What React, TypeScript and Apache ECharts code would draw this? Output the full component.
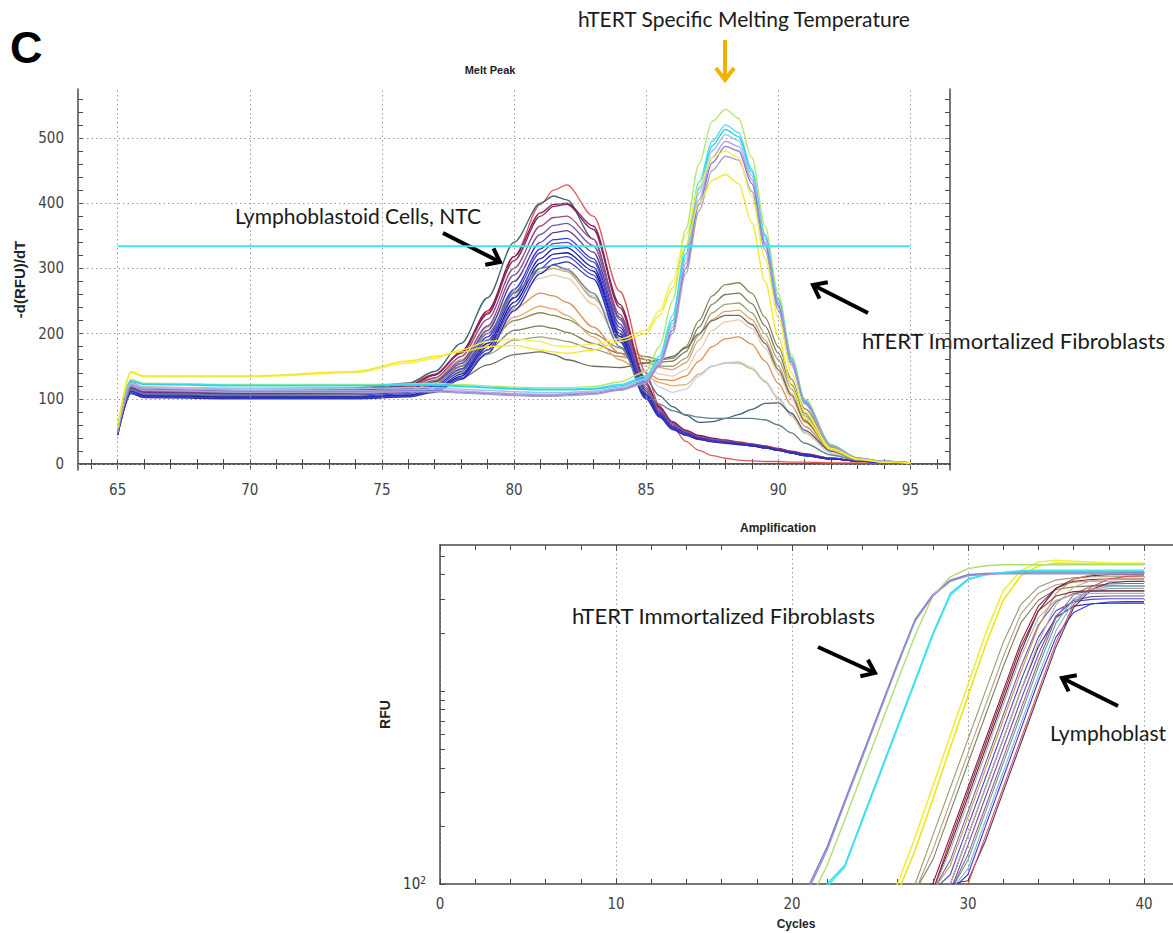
import React, { useEffect, useRef } from "react";
import * as echarts from "echarts";

// ---------- Melt Peak data ----------
const MELT_TEMPS = [65, 65.5, 66, 70, 74, 76, 77, 78, 79, 80, 81, 81.5, 82, 83, 84, 85, 85.5, 86, 86.5, 87, 87.5, 88, 88.5, 89, 89.5, 90, 90.5, 91, 92, 93, 94, 95];
const MELT_X_LABELS = [65, 70, 75, 80, 85, 90, 95];
const MELT_X_TICKS = [64, 65, 66, 67, 68, 69, 70, 71, 72, 73, 74, 75, 76, 77, 78, 79, 80, 81, 82, 83, 84, 85, 86, 87, 88, 89, 90, 91, 92, 93, 94, 95, 96];
const MELT_Y_LABELS = [0, 100, 200, 300, 400, 500];
const MELT_Y_TICKS = [0, 20, 40, 60, 80, 100, 120, 140, 160, 180, 200, 220, 240, 260, 280, 300, 320, 340, 360, 380, 400, 420, 440, 460, 480, 500, 520, 540, 560];
const THRESHOLD = 334;

const FIB_MELT_COLORS = ["#b4e86a", "#3fe3ee", "#2fd2e4", "#96c8f0", "#b4a4e4", "#8a7cd4", "#aaa2c6", "#f2f04a", "#f6e62a"];
const FIB_MELT = [
  [58, 130, 124, 122, 122, 123, 124, 122, 120, 118, 117, 117, 117, 119, 126, 142, 180, 250, 360, 460, 525, 544, 530, 470, 365, 262, 168, 100, 30, 10, 4, 2],
  [55, 128, 123, 121, 121, 122, 122, 120, 118, 116, 115, 115, 115, 116, 122, 135, 165, 228, 332, 432, 495, 520, 508, 452, 352, 252, 162, 96, 28, 9, 4, 2],
  [54, 127, 122, 120, 120, 121, 121, 119, 117, 115, 114, 114, 114, 115, 120, 132, 160, 220, 322, 422, 488, 513, 502, 448, 350, 252, 163, 98, 29, 9, 4, 2],
  [52, 124, 118, 116, 116, 117, 117, 115, 113, 111, 110, 110, 110, 112, 118, 130, 158, 215, 315, 415, 480, 505, 496, 442, 345, 248, 160, 96, 28, 9, 4, 2],
  [52, 122, 116, 113, 113, 114, 114, 112, 110, 108, 107, 107, 108, 110, 116, 128, 155, 210, 308, 405, 470, 495, 487, 436, 340, 245, 158, 95, 28, 9, 4, 2],
  [50, 120, 114, 111, 111, 112, 112, 110, 108, 106, 105, 105, 106, 108, 114, 126, 152, 205, 300, 398, 462, 487, 480, 430, 336, 242, 156, 94, 27, 9, 4, 2],
  [50, 120, 113, 110, 110, 111, 111, 109, 107, 105, 104, 104, 105, 107, 113, 124, 150, 200, 292, 388, 450, 472, 466, 418, 328, 236, 152, 92, 27, 9, 4, 2],
  [56, 140, 134, 134, 140, 155, 162, 175, 188, 192, 188, 182, 180, 184, 192, 205, 235, 280, 350, 425, 470, 480, 470, 410, 315, 225, 140, 80, 24, 8, 3, 2],
  [56, 142, 135, 135, 142, 158, 165, 172, 180, 182, 175, 172, 170, 175, 188, 200, 228, 270, 335, 400, 435, 444, 430, 370, 280, 195, 120, 70, 22, 7, 3, 2],
];

const LYM_MELT_COLORS = ["#e0585a", "#3e6478", "#8a1c48", "#7a2a6a", "#a24878", "#7058a8", "#683890", "#3838d8", "#5050c8", "#2828b0", "#1c1c98", "#4848e8", "#3030a8", "#66808e"];
const LYM_MELT = [
  [52, 125, 118, 116, 117, 124, 138, 172, 232, 318, 398, 420, 428, 380, 265, 140, 90, 57, 35, 21, 13, 9, 6, 5, 4, 4, 3, 3, 2, 2, 2, 2],
  [50, 122, 115, 113, 114, 124, 142, 185, 255, 340, 400, 411, 405, 345, 225, 130, 105, 88, 75, 64, 65, 70, 76, 84, 93, 94, 78, 52, 20, 7, 3, 2],
  [50, 120, 113, 111, 112, 120, 136, 172, 235, 318, 385, 398, 400, 365, 245, 125, 88, 65, 52, 44, 40, 37, 34, 31, 28, 24, 20, 16, 9, 5, 3, 2],
  [50, 121, 114, 112, 113, 121, 137, 170, 230, 312, 380, 395, 398, 360, 240, 122, 86, 64, 51, 43, 39, 36, 33, 30, 27, 23, 19, 15, 9, 5, 3, 2],
  [49, 118, 112, 110, 111, 118, 132, 165, 222, 300, 365, 378, 380, 345, 230, 118, 84, 62, 50, 42, 38, 36, 33, 30, 27, 23, 19, 15, 9, 5, 3, 2],
  [48, 118, 111, 109, 110, 116, 128, 158, 212, 290, 352, 366, 369, 335, 222, 115, 82, 60, 49, 41, 37, 35, 32, 29, 26, 22, 18, 14, 8, 5, 3, 2],
  [48, 116, 110, 108, 109, 115, 126, 154, 205, 280, 340, 355, 358, 325, 215, 112, 80, 58, 48, 40, 36, 34, 31, 28, 25, 21, 17, 13, 8, 5, 3, 2],
  [47, 114, 108, 106, 106, 110, 120, 146, 195, 268, 330, 344, 346, 315, 210, 110, 78, 57, 47, 40, 36, 34, 31, 29, 26, 22, 18, 14, 8, 5, 3, 2],
  [46, 112, 106, 104, 104, 108, 118, 142, 190, 262, 324, 338, 340, 310, 205, 108, 76, 56, 46, 39, 35, 33, 31, 29, 26, 22, 18, 14, 8, 5, 3, 2],
  [46, 112, 105, 103, 103, 106, 115, 138, 185, 255, 315, 330, 332, 302, 200, 106, 75, 55, 46, 39, 35, 33, 31, 29, 26, 22, 18, 14, 8, 5, 3, 2],
  [45, 110, 104, 102, 102, 105, 113, 135, 180, 248, 308, 322, 324, 296, 196, 104, 74, 54, 45, 38, 35, 33, 31, 28, 25, 21, 17, 13, 8, 5, 3, 2],
  [45, 110, 103, 101, 101, 104, 112, 132, 175, 242, 300, 315, 318, 290, 192, 102, 73, 54, 45, 38, 35, 33, 30, 28, 25, 21, 17, 13, 8, 5, 3, 2],
  [44, 108, 102, 100, 100, 103, 110, 130, 170, 235, 292, 306, 310, 284, 188, 100, 72, 53, 44, 38, 34, 32, 30, 28, 25, 21, 17, 13, 8, 5, 3, 2],
  [48, 114, 108, 106, 107, 112, 122, 150, 200, 262, 300, 305, 298, 262, 180, 110, 92, 82, 76, 72, 70, 70, 70, 70, 68, 60, 48, 32, 14, 6, 3, 2],
];

const MIX_MELT_COLORS = ["#8a8a58", "#7a7a5c", "#a2a27a", "#d6a474", "#e6cbb0", "#e08e50", "#eaa868", "#c0d4e8", "#6c6c5c"];
const MIX_MELT = [
  [50, 118, 112, 110, 111, 118, 128, 150, 185, 220, 232, 228, 222, 200, 178, 165, 160, 162, 180, 220, 258, 275, 278, 262, 225, 180, 130, 85, 28, 9, 4, 2],
  [50, 116, 110, 108, 109, 116, 125, 145, 175, 205, 212, 208, 202, 185, 170, 160, 156, 158, 172, 210, 245, 260, 262, 246, 212, 170, 122, 78, 26, 9, 4, 2],
  [49, 115, 109, 107, 108, 114, 122, 140, 168, 190, 195, 192, 188, 176, 165, 155, 150, 150, 162, 198, 232, 245, 247, 232, 200, 160, 115, 74, 25, 8, 4, 2],
  [50, 118, 112, 110, 111, 120, 132, 160, 210, 265, 295, 300, 295, 255, 200, 160, 148, 145, 155, 190, 222, 234, 236, 222, 190, 150, 108, 68, 22, 8, 4, 2],
  [49, 117, 111, 109, 110, 118, 130, 156, 202, 255, 285, 290, 285, 245, 190, 150, 138, 135, 145, 175, 205, 218, 221, 208, 178, 140, 100, 64, 21, 7, 3, 2],
  [49, 116, 110, 108, 109, 116, 126, 150, 190, 238, 262, 258, 248, 210, 170, 140, 130, 128, 135, 158, 180, 192, 195, 184, 158, 124, 90, 58, 20, 7, 3, 2],
  [48, 115, 109, 107, 108, 115, 124, 146, 182, 225, 242, 238, 228, 195, 160, 135, 125, 120, 122, 138, 150, 155, 155, 146, 126, 100, 74, 48, 17, 6, 3, 2],
  [48, 115, 109, 107, 108, 116, 128, 155, 200, 258, 295, 305, 300, 258, 195, 140, 118, 110, 115, 135, 150, 156, 157, 148, 128, 102, 76, 50, 17, 6, 3, 2],
  [49, 114, 108, 106, 107, 112, 118, 132, 152, 168, 172, 168, 160, 150, 148, 155, 160, 165, 178, 200, 220, 228, 228, 214, 185, 145, 105, 66, 22, 8, 4, 2],
];

// ---------- Amplification data ----------
const AMP_CYCLES = [20, 21, 22, 23, 24, 25, 26, 27, 28, 29, 30, 31, 32, 33, 34, 35, 36, 37, 38, 39, 40];
const AMP_Y_TICKS = [100, 200, 300, 400, 500, 600, 700, 800, 900, 1000, 2000, 3000, 4000, 5000];
const AMP_Y_LABELS = [100];

const FIB_AMP_COLORS = ["#7a78c2", "#b0de6e", "#2fd8e8", "#4ae4f0", "#9a92d2"];
const FIB_AMP = [
  [70, 100, 156, 270, 466, 805, 1390, 2350, 3150, 3750, 4000, 4060, 4080, 4080, 4080, 4080, 4080, 4080, 4080, 4080, 4080],
  [60, 82, 125, 215, 375, 650, 1130, 1950, 3100, 3900, 4300, 4450, 4500, 4500, 4500, 4500, 4500, 4500, 4500, 4500, 4500],
  [55, 70, 100, 125, 218, 378, 656, 1140, 1980, 3200, 3800, 4000, 4100, 4150, 4150, 4150, 4150, 4150, 4150, 4150, 4150],
  [55, 68, 97, 122, 212, 368, 640, 1110, 1930, 3120, 3760, 3990, 4120, 4200, 4220, 4220, 4220, 4220, 4220, 4220, 4220],
  [68, 96, 150, 262, 452, 785, 1360, 2300, 3100, 3700, 3950, 4020, 4040, 4040, 4040, 4040, 4040, 4040, 4040, 4040, 4040],
];

const YEL_AMP_COLORS = ["#eeee3c", "#f0e414"];
const YEL_AMP = [
  [50, 55, 60, 65, 70, 80, 100, 175, 320, 590, 1080, 1980, 3300, 4200, 4650, 4750, 4700, 4650, 4600, 4600, 4600],
  [50, 55, 60, 65, 70, 75, 90, 150, 275, 510, 940, 1730, 2950, 3950, 4450, 4600, 4580, 4560, 4550, 4550, 4550],
];

const LYM_AMP_COLORS = ["#9a9a72", "#b0a080", "#7e7e60", "#8a1c48", "#6e1f40", "#6a6aa8", "#d89048", "#4848d0", "#2828a8", "#7050a8", "#5ea4a4", "#a06080", "#3838e0", "#4a3a70", "#e05050", "#c8b090", "#90b0c8", "#b0b0b0", "#8c3030"];
const LYM_AMP = [
  [92, 92, 92, 92, 92, 92, 92, 100, 178, 316, 562, 1000, 1780, 2800, 3450, 3750, 3860, 3900, 3900, 3900, 3900],
  [92, 92, 92, 92, 92, 92, 92, 92, 150, 267, 475, 845, 1500, 2500, 3200, 3550, 3660, 3700, 3700, 3700, 3700],
  [92, 92, 92, 92, 92, 92, 92, 92, 133, 237, 422, 750, 1334, 2250, 2950, 3350, 3460, 3500, 3500, 3500, 3500],
  [92, 92, 92, 92, 92, 92, 92, 92, 100, 178, 316, 562, 1000, 1780, 2750, 3400, 3700, 3780, 3800, 3800, 3800],
  [92, 92, 92, 92, 92, 92, 92, 92, 92, 159, 283, 503, 895, 1590, 2600, 3400, 3800, 3950, 4000, 4000, 4000],
  [92, 92, 92, 92, 92, 92, 92, 92, 92, 133, 237, 422, 750, 1334, 2200, 2900, 3200, 3280, 3300, 3300, 3300],
  [92, 92, 92, 92, 92, 92, 92, 92, 92, 125, 222, 395, 705, 1250, 2150, 3200, 3800, 4000, 4080, 4100, 4100],
  [92, 92, 92, 92, 92, 92, 92, 92, 92, 112, 200, 355, 632, 1125, 1900, 2600, 2900, 2980, 3000, 3000, 3000],
  [92, 92, 92, 92, 92, 92, 92, 92, 92, 100, 178, 316, 562, 1000, 1700, 2400, 2750, 2830, 2850, 2850, 2850],
  [92, 92, 92, 92, 92, 92, 92, 92, 92, 92, 159, 283, 503, 895, 1550, 2450, 2950, 3080, 3100, 3100, 3100],
  [92, 92, 92, 92, 92, 92, 92, 92, 92, 92, 133, 237, 422, 750, 1334, 2250, 3000, 3300, 3380, 3400, 3400],
  [92, 92, 92, 92, 92, 92, 92, 92, 92, 92, 142, 252, 450, 800, 1420, 2400, 3150, 3500, 3580, 3600, 3600],
  [92, 92, 92, 92, 92, 92, 92, 92, 92, 92, 112, 200, 355, 632, 1125, 1900, 2550, 2820, 2890, 2900, 2900],
  [92, 92, 92, 92, 92, 92, 92, 92, 92, 100, 104, 168, 300, 533, 950, 1690, 2700, 3350, 3620, 3690, 3700],
  [92, 92, 92, 92, 92, 92, 92, 92, 92, 92, 100, 178, 316, 562, 1000, 1780, 2800, 3450, 3800, 3920, 3950],
  [92, 92, 92, 92, 92, 92, 92, 92, 92, 100, 178, 316, 562, 1000, 1780, 2800, 3450, 3720, 3780, 3800, 3800],
  [92, 92, 92, 92, 92, 92, 92, 92, 92, 92, 120, 214, 380, 676, 1200, 2050, 2900, 3350, 3470, 3500, 3500],
  [92, 92, 92, 92, 92, 92, 92, 92, 92, 150, 267, 475, 845, 1500, 2400, 2950, 3150, 3200, 3200, 3200, 3200],
  [92, 92, 92, 92, 92, 92, 92, 92, 92, 168, 300, 533, 950, 1690, 2600, 3100, 3270, 3300, 3300, 3300, 3300],
];

const LABEL_FONT = "'Liberation Sans Narrow', 'DejaVu Sans Condensed', 'Liberation Sans', sans-serif";
const NOTE_FONT = "Lato, 'Open Sans', sans-serif";
const BOLD_FONT = "'Liberation Sans', Arial, sans-serif";
const AXIS_COLOR = "#4a4a4a";

function arrow(x1: number, y1: number, x2: number, y2: number, color: string) {
  const a = Math.atan2(y2 - y1, x2 - x1);
  const L = 15;
  const p1 = [x2 - L * Math.cos(a - 0.65), y2 - L * Math.sin(a - 0.65)];
  const p2 = [x2 - L * Math.cos(a + 0.65), y2 - L * Math.sin(a + 0.65)];
  return [
    { type: "line", shape: { x1, y1, x2, y2 }, style: { stroke: color, lineWidth: 4, lineCap: "butt" }, silent: true },
    { type: "polyline", shape: { points: [p1, [x2, y2], p2] }, style: { stroke: color, lineWidth: 4, fill: null, lineJoin: "miter" }, silent: true },
  ];
}

function text(x: number, y: number, t: string, font: string, align = "left", color = "#1a1a1a") {
  return {
    type: "text",
    x,
    y,
    silent: true,
    style: { text: t, font, fill: color, align, verticalAlign: "middle", textAlign: align, textVerticalAlign: "middle" },
  };
}

export default function App() {
  const ref = useRef<HTMLDivElement>(null);
  useEffect(() => {
    if (!ref.current) return;
    const chart = echarts.init(ref.current, null, { renderer: "svg" });

    const lineSeries = (curves: number[][], colors: string[], xs: number[], xi: number, yi: number, width: number, name: string, smooth: number) =>
      curves.map((c, i) => ({
        type: "line",
        name: `${name} ${i + 1}`,
        xAxisIndex: xi,
        yAxisIndex: yi,
        data: xs.map((x, j) => [x, c[j]]),
        symbol: "none",
        showSymbol: false,
        smooth,
        smoothMonotone: "x",
        clip: true,
        silent: true,
        lineStyle: { color: colors[i], width },
      }));

    const dotted = { color: "#9a9a9a", type: [1.5, 3], width: 1 };

    const gridSeries = {
      type: "line",
      name: "grid",
      xAxisIndex: 0,
      yAxisIndex: 0,
      data: [],
      silent: true,
      markLine: {
        silent: true,
        symbol: ["none", "none"],
        label: { show: false },
        lineStyle: dotted,
        emphasis: { disabled: true },
        data: [
          ...MELT_X_LABELS.map((v) => ({ xAxis: v })),
          ...MELT_Y_LABELS.map((v) => ({ yAxis: v })),
        ],
      },
    };

    const thresholdSeries = {
      type: "line",
      name: "threshold",
      xAxisIndex: 0,
      yAxisIndex: 0,
      data: [
        [MELT_X_LABELS[0], THRESHOLD],
        [MELT_X_LABELS[MELT_X_LABELS.length - 1], THRESHOLD],
      ],
      symbol: "none",
      silent: true,
      lineStyle: { color: "#3ce4ec", width: 2.2 },
      z: 3,
    };

    const tickStyle = { inside: true, length: 5, lineStyle: { color: AXIS_COLOR, width: 1 } };
    const axisLine = { show: true, lineStyle: { color: AXIS_COLOR, width: 1.5 } };
    const labelStyle = { fontFamily: LABEL_FONT, fontSize: 15, color: "#444" };

    const meltX = (pos: string, labels: boolean) => ({
      type: "value",
      gridIndex: 0,
      position: pos,
      min: 63.5,
      max: 96.5,
      axisLine,
      axisTick: { ...tickStyle, customValues: MELT_X_TICKS },
      axisLabel: { show: labels, customValues: MELT_X_LABELS, margin: 12, ...labelStyle },
      splitLine: { show: false },
    });
    const meltY = (pos: string, labels: boolean) => ({
      type: "value",
      gridIndex: 0,
      position: pos,
      min: -9,
      max: 575,
      axisLine,
      axisTick: { ...tickStyle, customValues: MELT_Y_TICKS },
      axisLabel: { show: labels, customValues: MELT_Y_LABELS, margin: 14, ...labelStyle },
      splitLine: { show: false },
      name: labels ? "-d(RFU)/dT" : "",
      nameLocation: "middle",
      nameGap: 44,
      nameTextStyle: { fontFamily: BOLD_FONT, fontWeight: "bold", fontSize: 15, color: "#222" },
    });
    const ampX = (pos: string, labels: boolean) => ({
      type: "value",
      gridIndex: 1,
      position: pos,
      min: 0,
      max: 41.65,
      interval: 10,
      axisLine,
      axisTick: { ...tickStyle, length: 6 },
      minorTick: { show: true, splitNumber: 5, length: 5, lineStyle: { color: AXIS_COLOR } },
      axisLabel: { show: labels, margin: 12, showMaxLabel: false, ...labelStyle },
      splitLine: { show: labels, lineStyle: dotted },
    });

    const option = {
      animation: false,
      backgroundColor: "#ffffff",
      grid: [
        { left: 78, top: 89, width: 872, height: 381 },
        { left: 440, top: 545, width: 733, height: 339 },
      ],
      xAxis: [meltX("bottom", true), meltX("top", false), ampX("bottom", true), ampX("top", false)],
      yAxis: [
        meltY("left", true),
        meltY("right", false),
        {
          type: "log",
          logBase: 10,
          gridIndex: 1,
          min: 100,
          max: 5700,
          axisLine,
          axisTick: { ...tickStyle, customValues: AMP_Y_TICKS },
          minorTick: { show: false },
          axisLabel: {
            customValues: AMP_Y_LABELS,
            formatter: () => "{a|10}{b|2}",
            margin: 14,
            ...labelStyle,
            rich: {
              a: { fontFamily: LABEL_FONT, fontSize: 15, color: "#333" },
              b: { fontFamily: LABEL_FONT, fontSize: 10, color: "#333", verticalAlign: "top", padding: [0, 0, 8, 0] },
            },
          },
          splitLine: { show: false },
          name: "RFU",
          nameLocation: "middle",
          nameGap: 30,
          nameTextStyle: { fontFamily: BOLD_FONT, fontWeight: "bold", fontSize: 14, color: "#222" },
        },
      ],
      series: [
        gridSeries,
        ...lineSeries(MIX_MELT, MIX_MELT_COLORS, MELT_TEMPS, 0, 0, 1.3, "mixed melt", 0.3),
        ...lineSeries(LYM_MELT, LYM_MELT_COLORS, MELT_TEMPS, 0, 0, 1.3, "lymphoblastoid melt", 0.3),
        ...lineSeries(FIB_MELT, FIB_MELT_COLORS, MELT_TEMPS, 0, 0, 1.4, "fibroblast melt", 0.3),
        thresholdSeries,
        ...lineSeries(LYM_AMP, LYM_AMP_COLORS, AMP_CYCLES, 2, 2, 1.1, "lymphoblastoid amp", 0),
        ...lineSeries(YEL_AMP, YEL_AMP_COLORS, AMP_CYCLES, 2, 2, 1.6, "yellow amp", 0),
        ...lineSeries(FIB_AMP, FIB_AMP_COLORS, AMP_CYCLES, 2, 2, 1.4, "fibroblast amp", 0),
      ],
      graphic: [
        text(10, 47, "C", `bold 45px ${BOLD_FONT}`, "left", "#000"),
        text(744, 18, "hTERT Specific Melting Temperature", `21px ${NOTE_FONT}`, "center"),
        text(490, 70, "Melt Peak", `bold 11px ${BOLD_FONT}`, "center", "#222"),
        text(235, 215, "Lymphoblastoid Cells, NTC", `21px ${NOTE_FONT}`),
        text(862, 340, "hTERT Immortalized Fibroblasts", `22px ${NOTE_FONT}`),
        text(778, 528, "Amplification", `bold 12px ${BOLD_FONT}`, "center", "#222"),
        text(572, 615, "hTERT Immortalized Fibroblasts", `22px ${NOTE_FONT}`),
        text(1050, 732, "Lymphoblast", `21px ${NOTE_FONT}`),
        text(796, 924, "Cycles", `bold 12px ${BOLD_FONT}`, "center", "#222"),
        ...arrow(725, 40, 725, 80, "#f2b200"),
        ...arrow(443, 233, 500, 262, "#000"),
        ...arrow(868, 313, 813, 285, "#000"),
        ...arrow(818, 647, 875, 673, "#000"),
        ...arrow(1118, 706, 1062, 678, "#000"),
      ],
    };

    chart.setOption(option as any);
    return () => chart.dispose();
  }, []);

  return <div ref={ref} style={{ position: "fixed", left: 0, top: 0, width: 1173, height: 933, background: "#fff" }} />;
}
